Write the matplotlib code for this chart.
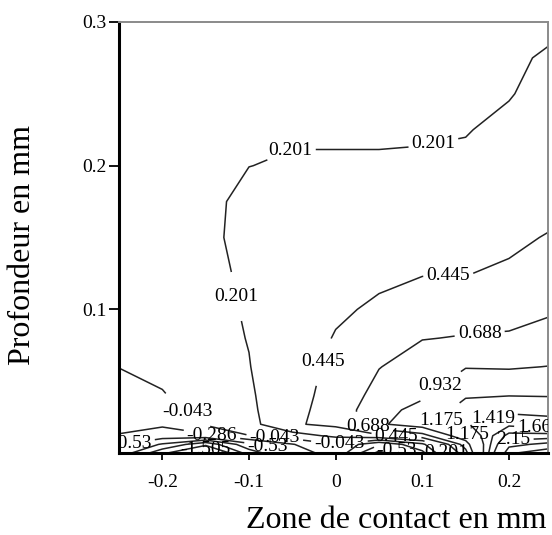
import matplotlib
matplotlib.use('Agg')
import matplotlib.pyplot as plt
import numpy as np

# ---- data -------------------------------------------------------------
x_mm = [-0.25, -0.2, -0.15, -0.1, -0.05, 0.0, 0.05, 0.1, 0.15, 0.2, 0.25]
y_mm = [0.0, 0.006, 0.012, 0.02, 0.03, 0.04, 0.06, 0.08, 0.1, 0.125,
        0.15, 0.175, 0.2, 0.225, 0.25, 0.275, 0.3]
z_rows = [
    [-0.60, -1.20, -1.70, -0.90, -0.50, -0.10, -0.85, -0.35, 0.60, 2.60, 2.80],
    [-0.50, -0.80, -1.20, -0.60, -0.30, -0.05, -0.50, -0.10, 0.80, 2.30, 2.50],
    [-0.30, -0.40, -0.35, -0.05, 0.10, 0.25, 0.40, 0.60, 1.10, 2.00, 2.00],
    [-0.22, -0.25, -0.01, 0.12, 0.42, 0.50, 0.90, 1.05, 1.40, 1.60, 1.50],
    [-0.16, -0.15, 0.04, 0.15, 0.40, 0.51, 0.88, 0.98, 1.28, 1.35, 1.35],
    [-0.11, -0.06, 0.08, 0.17, 0.37, 0.52, 0.775, 0.91, 1.15, 1.17, 1.16],
    [-0.04, 0.02, 0.12, 0.195, 0.34, 0.50, 0.68, 0.80, 0.92, 0.91, 0.94],
    [0.00, 0.06, 0.14, 0.207, 0.31, 0.46, 0.60, 0.68, 0.70, 0.71, 0.75],
    [0.03, 0.08, 0.155, 0.215, 0.29, 0.41, 0.48, 0.50, 0.60, 0.62, 0.67],
    [0.05, 0.10, 0.165, 0.225, 0.27, 0.35, 0.40, 0.44, 0.44, 0.47, 0.55],
    [0.07, 0.11, 0.175, 0.237, 0.255, 0.30, 0.33, 0.36, 0.39, 0.41, 0.46],
    [0.08, 0.12, 0.175, 0.229, 0.235, 0.26, 0.28, 0.30, 0.33, 0.35, 0.39],
    [0.09, 0.13, 0.17, 0.20, 0.21, 0.21, 0.21, 0.212, 0.22, 0.26, 0.30],
    [0.10, 0.13, 0.165, 0.18, 0.19, 0.19, 0.19, 0.192, 0.196, 0.225, 0.27],
    [0.10, 0.14, 0.16, 0.175, 0.18, 0.185, 0.185, 0.185, 0.185, 0.195, 0.24],
    [0.11, 0.14, 0.16, 0.17, 0.175, 0.18, 0.18, 0.18, 0.182, 0.188, 0.212],
    [0.11, 0.14, 0.16, 0.17, 0.17, 0.175, 0.175, 0.175, 0.178, 0.18, 0.185],
]
levels = [-1.505, -1.261, -1.017, -0.774, -0.53, -0.286, -0.043, 0.201,
          0.445, 0.688, 0.932, 1.175, 1.419, 1.662, 1.906, 2.15, 2.394, 2.637]
xticks = [-0.2, -0.1, 0.0, 0.1, 0.2]
xtick_labels = ['-0.2', '-0.1', '0', '0.1', '0.2']
yticks = [0.1, 0.2, 0.3]
ytick_labels = ['0.1', '0.2', '0.3']
xlabel = 'Zone de contact en mm'
ylabel = 'Profondeur en mm'

# ---- styling -------------------------------------------------------------
label_spots = [(-0.05, 0.208), (0.114, 0.212), (-0.114, 0.109),
               (-0.013, 0.063), (0.13, 0.123), (0.166, 0.084),
               (0.04, 0.025), (0.118, 0.049), (0.122, 0.023),
               (0.18, 0.028), (-0.169, 0.03), (-0.142, 0.0146),
               (-0.07, 0.013), (0.004, 0.008), (0.07, 0.011),
               (-0.15, 0.002), (-0.235, 0.005), (-0.08, 0.002),
               (0.07, 0.002), (0.13, 0.002), (0.15, 0.012),
               (0.205, 0.01), (0.235, 0.017)]

serif = ['Liberation Serif', 'DejaVu Serif']
plt.rcParams['font.family'] = serif

fig = plt.figure(figsize=(5.52, 5.35), dpi=100)
ax = fig.add_axes([119 / 552, 1 - 453 / 535, (548 - 119) / 552, (453 - 22) / 535])

X, Y = np.meshgrid(np.array(x_mm), np.array(y_mm))
Z = np.array(z_rows)
cs = ax.contour(X, Y, Z, levels=levels, colors='#222222', linewidths=1.1,
                linestyles='solid', negative_linestyles='solid')


def fmt(v):
    return ('%.3f' % v).rstrip('0').rstrip('.')


texts = ax.clabel(cs, fmt=fmt, fontsize=14, inline=True, inline_spacing=3,
                  manual=label_spots)
for t in texts:
    t.set_rotation(0)
    t.set_color('black')

ax.set_xlim(-0.25, 0.245)
ax.set_ylim(0, 0.3)
ax.set_xticks(xticks)
ax.set_xticklabels(xtick_labels)
ax.set_yticks(yticks)
ax.set_yticklabels(ytick_labels)
ax.tick_params(axis='x', direction='out', length=5, width=1.3, pad=10,
               labelsize=14)
ax.tick_params(axis='y', direction='out', length=7, width=1.3, pad=2,
               labelsize=14)

for side in ('left', 'bottom'):
    ax.spines[side].set_linewidth(2.2)
    ax.spines[side].set_color('black')
for side in ('top', 'right'):
    ax.spines[side].set_linewidth(1.4)
    ax.spines[side].set_color('#8a8a8a')

ax.set_xlabel(xlabel, fontsize=23)
ax.xaxis.set_label_coords((396 - 119) / (548 - 119), (453 - 520) / (453 - 22))
ax.xaxis.label.set_va('center')
ax.set_ylabel(ylabel, fontsize=23)
ax.yaxis.set_label_coords((22 - 119) / (548 - 119), (453 - 245) / (453 - 22))
ax.yaxis.label.set_va('center')

fig.savefig('out.png', dpi=100)
